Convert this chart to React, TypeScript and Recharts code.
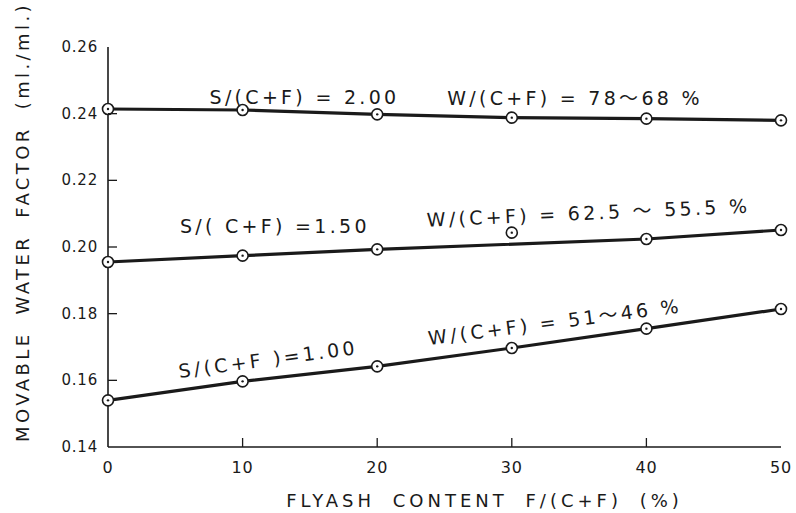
import React from 'react';
import {
  ComposedChart,
  Line,
  XAxis,
  YAxis,
  ReferenceDot,
  Label,
} from 'recharts';

// Flyash content F/(C+F) in %
const flyash = [0, 10, 20, 30, 40, 50];

// Movable water factor (ml./ml.)
const sRatio200 = [0.2414, 0.2411, 0.2398, 0.2388, 0.2385, 0.238];
const sRatio150 = [0.1955, 0.1974, 0.1993, 0.2043, 0.2024, 0.2051];
const sRatio100 = [0.154, 0.1597, 0.1642, 0.1697, 0.1755, 0.1814];

// the 30% point of S/(C+F)=1.50 sits off the drawn line
const offLine150 = [30];

const xTicks = [0, 10, 20, 30, 40, 50];
const yTicks = [0.14, 0.16, 0.18, 0.2, 0.22, 0.24, 0.26];

// curve captions, anchored in data units
const notes = [
  { text: 'S/(C+F) = 2.00', x: 14.6, y: 0.2451, angle: 0 },
  { text: 'W/(C+F) = 78〜68 %', x: 34.7, y: 0.2447, angle: 0 },
  { text: 'S/( C+F) =1.50', x: 12.4, y: 0.2063, angle: 0 },
  { text: 'W/(C+F) = 62.5 〜 55.5 %', x: 35.7, y: 0.2103, angle: -2.5 },
  { text: 'S/(C+F )=1.00', x: 11.9, y: 0.1664, angle: -7.6 },
  { text: 'W/(C+F) = 51〜46 %', x: 33.2, y: 0.1776, angle: -7.4 },
];

const data = flyash.map((x, i) => ({
  x,
  a: sRatio200[i],
  b: sRatio150[i],
  bLine: offLine150.includes(x) ? null : sRatio150[i],
  c: sRatio100[i],
}));

const FONT = '"DejaVu Sans", "Noto Sans CJK JP", sans-serif';
const INK = '#1a1a1a';

const Marker = (props: any) => {
  const { cx, cy, index } = props;
  if (cx == null || cy == null) return <g key={index} />;
  return (
    <g key={index}>
      <circle cx={cx} cy={cy} r={5.5} fill="#fff" stroke={INK} strokeWidth={1.6} />
      <circle cx={cx} cy={cy} r={1.2} fill={INK} />
    </g>
  );
};

const Y_MARGIN = 10;
const X_MARGIN = 12;

const YTick = (props: any) => {
  const { x, y, payload } = props;
  const axisX = x + Y_MARGIN;
  const edge = payload.value === 0.14 || payload.value === 0.26;
  return (
    <g>
      {!edge && <line x1={axisX} y1={y} x2={axisX + 9} y2={y} stroke={INK} strokeWidth={1.3} />}
      <text x={x} y={y} dy={5} textAnchor="end" fontSize={15} fontFamily={FONT} fill={INK} letterSpacing={0.8}>
        {payload.value.toFixed(2)}
      </text>
    </g>
  );
};

const XTick = (props: any) => {
  const { x, y, payload } = props;
  const axisY = y - X_MARGIN;
  const edge = payload.value === 0 || payload.value === 50;
  return (
    <g>
      {!edge && <line x1={x} y1={axisY} x2={x} y2={axisY - 9} stroke={INK} strokeWidth={1.3} />}
      <text x={x} y={y} dy={14} textAnchor="middle" fontSize={16} fontFamily={FONT} fill={INK} letterSpacing={0.8}>
        {payload.value}
      </text>
    </g>
  );
};

const noteContent = (text: string, angle: number) => (props: any) => {
  const { viewBox } = props;
  const cx = viewBox.x + (viewBox.width || 0) / 2;
  const cy = viewBox.y + (viewBox.height || 0) / 2;
  return (
    <text
      x={cx}
      y={cy}
      textAnchor="middle"
      dominantBaseline="central"
      fontSize={19}
      fontFamily={FONT}
      fill={INK}
      letterSpacing={3.3}
      transform={`rotate(${angle} ${cx} ${cy})`}
    >
      {text}
    </text>
  );
};

const App: React.FC = () => {
  return (
    <div style={{ position: 'absolute', left: 0, top: 0, background: '#fff' }}>
      <ComposedChart
        width={796}
        height={513}
        data={data}
        margin={{ top: 47, right: 15, left: 0, bottom: 16 }}
      >
        <XAxis
          dataKey="x"
          type="number"
          domain={[0, 50]}
          ticks={xTicks}
          height={50}
          tickSize={0}
          tickMargin={X_MARGIN}
          tickLine={false}
          tick={<XTick />}
          axisLine={{ stroke: INK, strokeWidth: 1.6 }}
        >
          <Label
            content={(p: any) => {
              const vb = p.viewBox;
              const cx = vb.x + vb.width / 2 + 40;
              return (
                <text x={cx} y={vb.y + 60} textAnchor="middle" fontSize={18} fontFamily={FONT} fill={INK} letterSpacing={4} wordSpacing={8}>
                  FLYASH CONTENT F/(C+F) (%)
                </text>
              );
            }}
          />
        </XAxis>
        <XAxis xAxisId="top" orientation="top" type="number" domain={[0, 50]} height={0} tick={false} tickLine={false} axisLine={{ stroke: INK, strokeWidth: 1.6 }} />
        <YAxis
          type="number"
          domain={[0.14, 0.26]}
          ticks={yTicks}
          width={108}
          tickSize={0}
          tickMargin={Y_MARGIN}
          tickLine={false}
          tick={<YTick />}
          axisLine={{ stroke: INK, strokeWidth: 1.6 }}
        >
          <Label
            content={(p: any) => {
              const vb = p.viewBox;
              const cx = vb.x + 22;
              const cy = vb.y + vb.height / 2 - 25;
              return (
                <text x={cx} y={cy} textAnchor="middle" dominantBaseline="central" fontSize={18} fontFamily={FONT} fill={INK} letterSpacing={3.4} wordSpacing={8} transform={`rotate(-90 ${cx} ${cy})`}>
                  MOVABLE WATER FACTOR (ml./ml.)
                </text>
              );
            }}
          />
        </YAxis>
        <YAxis yAxisId="right" orientation="right" type="number" domain={[0.14, 0.26]} width={0} tick={false} tickLine={false} axisLine={{ stroke: INK, strokeWidth: 1.6 }} />

        <Line type="linear" dataKey="a" stroke={INK} strokeWidth={3.2} dot={<Marker />} activeDot={false} isAnimationActive={false} />
        <Line type="linear" dataKey="bLine" stroke={INK} strokeWidth={3.2} dot={false} activeDot={false} connectNulls isAnimationActive={false} />
        <Line type="linear" dataKey="b" stroke="none" dot={<Marker />} activeDot={false} isAnimationActive={false} />
        <Line type="linear" dataKey="c" stroke={INK} strokeWidth={3.2} dot={<Marker />} activeDot={false} isAnimationActive={false} />

        {notes.map((n) => (
          <ReferenceDot key={n.text} x={n.x} y={n.y} r={0} fill="none" stroke="none" label={noteContent(n.text, n.angle)} />
        ))}
      </ComposedChart>
    </div>
  );
};

export default App;
